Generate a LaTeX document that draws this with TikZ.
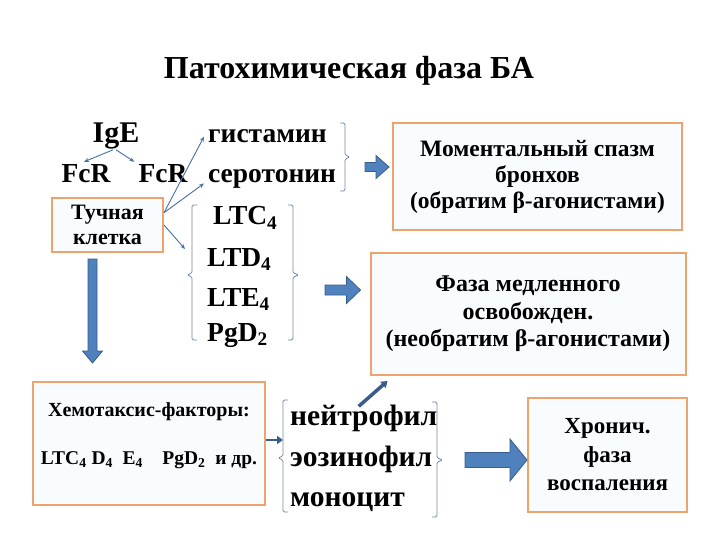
\documentclass[tikz,border=0pt]{standalone}
\usepackage{fontspec}
\setmainfont{Liberation Serif}
\usetikzlibrary{calc,arrows.meta}
\definecolor{boxorange}{RGB}{238,162,108}
\definecolor{boxfill}{RGB}{249,252,255}
\definecolor{ablue}{RGB}{79,129,189}
\definecolor{ablueline}{RGB}{56,93,138}
\definecolor{thinblue}{RGB}{72,112,162}
\definecolor{brgray}{RGB}{120,138,165}
\tikzset{
  lbl/.style={font=\bfseries\fontsize{27.5}{30}\selectfont, inner sep=0pt},
  big/.style={font=\bfseries\fontsize{29.5}{34}\selectfont, inner sep=0pt, anchor=base west},
  box/.style={draw=boxorange, line width=2pt, fill=boxfill, align=center},
  thinarrow/.style={draw=thinblue, line width=0.9pt, -{Stealth[length=5pt,width=4pt]}},
  thickarrow/.style={draw=ablueline, line width=3pt, -{Triangle[length=6pt,width=8pt]}},
  bracketline/.style={draw=brgray, line width=0.8pt, rounded corners=1.5pt},
  blockarrow/.style={fill=ablue, draw=ablueline, line width=0.8pt},
}
% horizontal block arrow: start, end, shaft half, head half, head length
\newcommand\myharrow[5]{%
  \path[blockarrow] let \p1=(#1), \p2=(#2) in
    (\x1,\y1+#3) -- (\x2-#5,\y1+#3) -- (\x2-#5,\y1+#4) -- (\x2,\y1)
    -- (\x2-#5,\y1-#4) -- (\x2-#5,\y1-#3) -- (\x1,\y1-#3) -- cycle;}
% vertical (downward) block arrow
\newcommand\myvarrow[5]{%
  \path[blockarrow] let \p1=(#1), \p2=(#2) in
    (\x1-#3,\y1) -- (\x1-#3,\y2+#5) -- (\x1-#4,\y2+#5) -- (\x1,\y2)
    -- (\x1+#4,\y2+#5) -- (\x1+#3,\y2+#5) -- (\x1+#3,\y1) -- cycle;}
\begin{document}
\begin{tikzpicture}[x=1pt,y=-1pt]
\useasboundingbox (0,0) rectangle (720,540);
\fill[white] (0,0) rectangle (720,540);

% title
\node[font=\bfseries\fontsize{32}{36}\selectfont, inner sep=0pt, anchor=base] (title) at (349,79) {Патохимическая фаза БА};

% IgE / FcR
\node[lbl, font=\bfseries\fontsize{30}{32}\selectfont, anchor=base] (ige) at (116,143) {IgE};
\node[lbl, anchor=base] (fcr1) at (86,183) {FcR};
\node[lbl, anchor=base] (fcr2) at (163,183) {FcR};
\draw[thinarrow] ($(ige.south)+(-3,0)$) -- ($(fcr1.north)+(-2,-3)$);
\draw[thinarrow] ($(ige.south)+(0,0)$) -- ($(fcr2.north west)+(-4,-3)$);

% mast cell
\node[box, minimum width=111pt, minimum height=54pt, inner sep=1pt,
      font=\bfseries\fontsize{22}{25}\selectfont] (mast) at (107.5,225) {Тучная\\клетка};

% mediators
\node[lbl, anchor=base west] (gist) at (208,143) {гистамин};
\node[lbl, anchor=base west] (sero) at (208,183) {серотонин};
\node[lbl, anchor=base west] (ltc) at (213,225) {LTC\textsubscript{4}};
\node[lbl, anchor=base west] (ltd) at (207,266) {LTD\textsubscript{4}};
\node[lbl, anchor=base west] (lte) at (207,306) {LTE\textsubscript{4}};
\node[lbl, anchor=base west] (pgd) at (207,341) {PgD\textsubscript{2}};

\coordinate (m1) at ($(mast.north east)!0.28!(mast.south east)$);
\draw[thinarrow] (m1) -- ($(gist.west)+(-4,0)$);
\draw[thinarrow] (m1) -- ($(sero.west)+(-4,4)$);
\coordinate (ltdin) at ($(ltd.west)+(-22,-10)$);
\draw[thinarrow] (mast.east) -- (ltdin);

% brackets
\draw[bracketline] (340,123) -- (345,123) -- (345,155) -- (350,157) -- (345,159) -- (345,191) -- (340,191);
\coordinate (br1) at (350,157);
\draw[bracketline] (197,205) -- (192,205) -- (192,273) -- (187,275) -- (192,277) -- (192,340) -- (197,340);
\draw[bracketline] (288,205) -- (293,205) -- (293,273) -- (299,275) -- (293,277) -- (293,340) -- (288,340);
\coordinate (br2) at (299,275);
\draw[bracketline] (288,400) -- (283,400) -- (283,456) -- (278,458) -- (283,460) -- (283,512) -- (288,512);
\coordinate (br3l) at (283,440);
\draw[bracketline] (432,402) -- (437,402) -- (437,458) -- (443,460) -- (437,462) -- (437,517) -- (432,517);
\coordinate (br3) at (443,460);

% right boxes
\node[box, minimum width=289pt, minimum height=107pt, inner sep=1pt,
      font=\bfseries\fontsize{23.5}{26}\selectfont] (moment) at (537.5,176.5)
  {Моментальный спазм\\бронхов\\(обратим β-агонистами)};
\node[box, minimum width=315pt, minimum height=122pt, inner sep=1pt,
      font=\bfseries\fontsize{24}{27.5}\selectfont] (faza) at (528,314)
  {Фаза медленного\\освобожден.\\(необратим β-агонистами)};

% chemotaxis box
\node[box, minimum width=232pt, minimum height=123pt] (chemo) at (149,443.5) {};
\node[font=\bfseries\fontsize{20}{22}\selectfont, inner sep=0pt, anchor=base] (chemo1) at ($(chemo.north)+(0,35)$) {Хемотаксис-факторы:};
\node[font=\bfseries\fontsize{19.5}{22}\selectfont, inner sep=0pt, anchor=base] (chemo2) at ($(chemo.north)+(0,83)$)
  {LTC\textsubscript{4} D\textsubscript{4}\enspace E\textsubscript{4}\quad PgD\textsubscript{2}\enspace и др.};

% cells
\node[big] (neut) at (290,425) {нейтрофил};
\node[big] (eos) at (290,466) {эозинофил};
\node[big] (mono) at (290,506) {моноцит};

% chronic box
\node[box, minimum width=159pt, minimum height=114pt, inner sep=1pt,
      font=\bfseries\fontsize{23}{28.5}\selectfont] (chron) at (607.5,455)
  {Хронич.\\фаза\\воспаления};

% block arrows
\myharrow{$(br1)+(15,10)$}{$(moment.west)+(-3,-9.5)$}{4.5}{11.5}{13}
\myharrow{$(br2)+(26,15)$}{$(faza.west)+(-9,-22)$}{5}{13.5}{14}
\myharrow{$(br3)+(22,0)$}{$(chron.west)+(0,5)$}{7.5}{21}{17}
\myvarrow{$(mast.south)+(-15,6)$}{$(mast.south)+(-15,110)$}{4.5}{10}{12}

% small arrows
\draw[thickarrow, line width=2.5pt] (chemo.east |- br3l) -- (br3l);
\draw[thickarrow, line width=3.5pt] ($(neut.north)+(-5,2)$) -- ($(faza.south west)+(18,5)$);
\end{tikzpicture}
\end{document}
